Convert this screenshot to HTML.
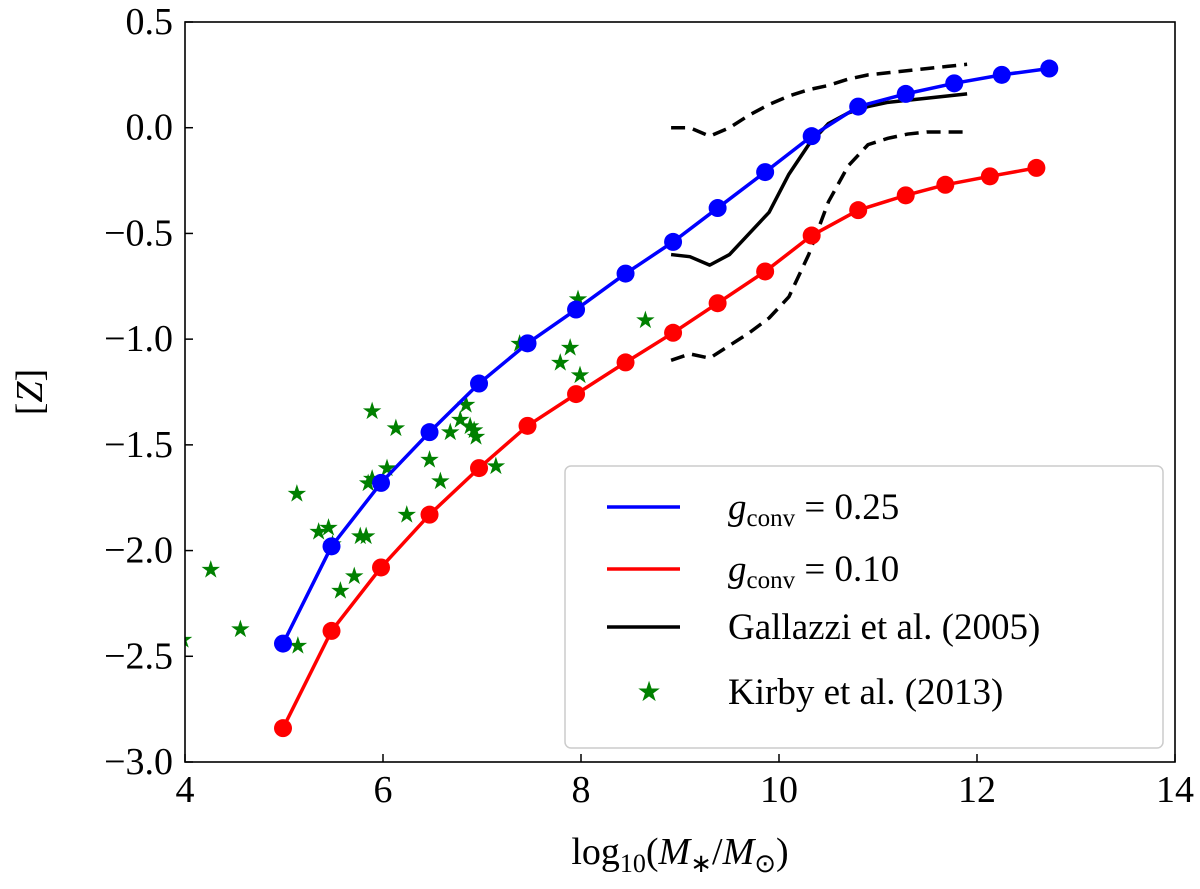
<!DOCTYPE html>
<html><head><meta charset="utf-8"><style>
body{margin:0;background:#fff}
svg{display:block}
text{font-family:"Liberation Serif",serif;fill:#000}
</style></head><body>
<svg id="chart" width="1200" height="889" viewBox="0 0 1200 889">
<defs><clipPath id="clip"><rect x="185" y="22" width="990" height="740"/></clipPath></defs>
<g id="plot" clip-path="url(#clip)"></g>
<rect x="185" y="22" width="990" height="740" fill="none" stroke="#000" stroke-width="1.6"/>
<g id="axes"></g>
<text x="680" y="864" font-size="38" text-anchor="middle">log<tspan font-size="26" dy="8">10</tspan><tspan dy="-8">(</tspan><tspan font-style="italic">M</tspan><tspan font-size="26" dy="8">∗</tspan><tspan dy="-8">/</tspan><tspan font-style="italic">M</tspan><tspan font-size="26" dy="8">⊙</tspan><tspan dy="-8">)</tspan></text>
<text transform="translate(42,392) rotate(-90)" font-size="38" text-anchor="middle">[<tspan font-style="italic">Z</tspan>]</text>
<g>
<rect x="565" y="466" width="598" height="282" rx="6" fill="#fff" fill-opacity="0.85" stroke="#ccc" stroke-width="1.5"/>
<line x1="607" y1="507" x2="680" y2="507" stroke="#0000ff" stroke-width="3.5"/>
<text x="728" y="519" font-size="37"><tspan font-style="italic">g</tspan><tspan font-size="25" dy="7">conv</tspan><tspan dy="-7"> = 0.25</tspan></text>
<line x1="607" y1="569" x2="680" y2="569" stroke="#ff0000" stroke-width="3.5"/>
<text x="728" y="581" font-size="37"><tspan font-style="italic">g</tspan><tspan font-size="25" dy="7">conv</tspan><tspan dy="-7"> = 0.10</tspan></text>
<line x1="607" y1="627" x2="680" y2="627" stroke="#000" stroke-width="3.5"/>
<text x="728" y="639" font-size="37">Gallazzi et al. (2005)</text>
<text x="649" y="701" font-size="28" style="fill:#008000" text-anchor="middle">★</text>
<text x="728" y="704" font-size="37">Kirby et al. (2013)</text>
</g>
</svg>
<script>
const xTicks=[4,6,8,10,12,14];
const yTicks=[0.5,0.0,-0.5,-1.0,-1.5,-2.0,-2.5,-3.0];
const yTickLabels=["0.5","0.0","\u22120.5","\u22121.0","\u22121.5","\u22122.0","\u22122.5","\u22123.0"];
const blueX=[4.99,5.48,5.98,6.47,6.97,7.46,7.95,8.45,8.93,9.38,9.86,10.33,10.8,11.28,11.77,12.25,12.73];
const blueY=[-2.44,-1.98,-1.68,-1.44,-1.21,-1.02,-0.86,-0.69,-0.54,-0.38,-0.21,-0.04,0.10,0.16,0.21,0.25,0.28];
const redX=[4.99,5.48,5.98,6.47,6.97,7.46,7.95,8.45,8.93,9.38,9.86,10.33,10.8,11.28,11.68,12.13,12.6];
const redY=[-2.84,-2.38,-2.08,-1.83,-1.61,-1.41,-1.26,-1.11,-0.97,-0.83,-0.68,-0.51,-0.39,-0.32,-0.27,-0.23,-0.19];
const galX=[8.91,9.1,9.3,9.5,9.7,9.9,10.1,10.3,10.5,10.7,10.9,11.1,11.3,11.5,11.7,11.9];
const galMed=[-0.6,-0.61,-0.65,-0.6,-0.5,-0.4,-0.22,-0.08,0.02,0.07,0.1,0.12,0.13,0.14,0.15,0.16];
const galHi=[0.0,0.0,-0.04,0.0,0.06,0.11,0.15,0.18,0.2,0.23,0.25,0.26,0.27,0.28,0.29,0.3];
const galLo=[-1.1,-1.07,-1.09,-1.03,-0.97,-0.9,-0.8,-0.6,-0.35,-0.18,-0.08,-0.05,-0.03,-0.02,-0.02,-0.02];
const kirbyX=[3.98,4.26,4.56,5.13,5.14,5.35,5.45,5.49,5.57,5.71,5.77,5.83,5.85,5.89,5.89,6.04,6.13,6.24,6.47,6.58,6.68,6.78,6.84,6.88,6.92,6.94,7.14,7.38,7.79,7.89,7.97,7.99,8.65];
const kirbyY=[-2.42,-2.09,-2.37,-1.73,-2.45,-1.91,-1.89,-1.97,-2.19,-2.12,-1.93,-1.93,-1.68,-1.66,-1.34,-1.61,-1.42,-1.83,-1.57,-1.67,-1.44,-1.38,-1.31,-1.41,-1.43,-1.46,-1.6,-1.02,-1.11,-1.04,-0.81,-1.17,-0.91];

const NS="http://www.w3.org/2000/svg";
const X0=185,X1=1175,Y0=22,Y1=762;
function sx(v){return X0+(v-4)/10*(X1-X0);}
function sy(v){return Y0+(0.5-v)/3.5*(Y1-Y0);}
function mk(tag,attrs,parent){const e=document.createElementNS(NS,tag);for(const k in attrs)e.setAttribute(k,attrs[k]);parent.appendChild(e);return e;}
const plot=document.getElementById('plot'),axes=document.getElementById('axes');

xTicks.forEach(t=>{
  const l=mk('line',{x1:sx(t),x2:sx(t),y1:Y1,y2:Y1-8,stroke:'#000','stroke-width':1.5},axes);
  
  
  const tx=mk('text',{x:sx(t),y:Y1+40,'font-size':38,'text-anchor':'middle'},axes);
  tx.textContent=t;
  
  
});
yTicks.forEach((t,i)=>{
  const l=mk('line',{x1:X0,x2:X0+8,y1:sy(t),y2:sy(t),stroke:'#000','stroke-width':1.5},axes);
  
  
  const tx=mk('text',{x:X0-12,y:sy(t)+12,'font-size':38,'text-anchor':'end'},axes);
  tx.textContent=yTickLabels[i];
  
  
});
function line(xs,ys,color,dash,name){
  const p=mk('polyline',{points:xs.map((x,i)=>sx(x)+','+sy(ys[i])).join(' '),fill:'none',stroke:color,'stroke-width':3.5,'stroke-linejoin':'round'},plot);
  if(dash)p.setAttribute('stroke-dasharray',dash);
  
  
}
function dots(xs,ys,color,name){
  xs.forEach((x,i)=>{
    const c=mk('circle',{cx:sx(x),cy:sy(ys[i]),r:9,fill:color},plot);
    
    
  });
}
line(galX,galHi,'#000','14 8','gallazzi-upper-dashed');
line(galX,galLo,'#000','14 8','gallazzi-lower-dashed');
line(galX,galMed,'#000',null,'gallazzi-median-line');
kirbyX.forEach((x,i)=>{
  const s=mk('text',{x:sx(x),y:sy(kirbyY[i])+8,'font-size':24,'text-anchor':'middle',style:'fill:#008000'},plot);
  s.textContent='★';
  
  
});
line(blueX,blueY,'#0000ff',null,'gconv-025-line');
dots(blueX,blueY,'#0000ff','gconv-025-point');
line(redX,redY,'#ff0000',null,'gconv-010-line');
dots(redX,redY,'#ff0000','gconv-010-point');
</script>
</body></html>
